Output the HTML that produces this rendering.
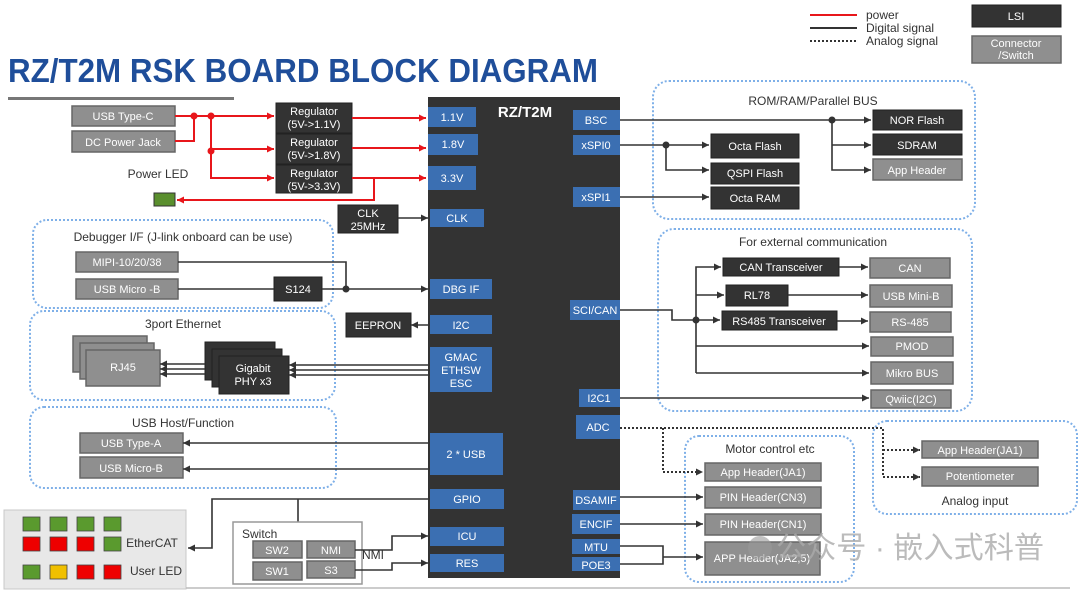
<!DOCTYPE html>
<html><head><meta charset="utf-8"><style>
html,body{margin:0;padding:0;background:#fff;}
svg{display:block;font-family:"Liberation Sans","Noto Sans CJK SC",sans-serif;}
.c{fill:#8f8f8f;stroke:#666;stroke-width:1.5}
.l{fill:#333;stroke:#222;stroke-width:1}
.p{fill:#3b6fb2}
.tw{fill:#fff;font-size:11px;text-anchor:middle}
.tk{fill:#333;font-size:12px;text-anchor:middle}
.g{fill:none;stroke:#7fb0e8;stroke-width:2;stroke-dasharray:2 2}
.w{fill:none;stroke:#333;stroke-width:1.6}
.r{fill:none;stroke:#e8161b;stroke-width:2}
.d{fill:none;stroke:#333;stroke-width:2;stroke-dasharray:2 2}
</style></head><body>
<svg width="1080" height="591" viewBox="0 0 1080 591" xmlns="http://www.w3.org/2000/svg">
<defs>
<marker id="a" markerWidth="8" markerHeight="8" refX="7" refY="4" orient="auto" markerUnits="userSpaceOnUse"><path d="M0,0.5 L7,4 L0,7.5z" fill="#333"/></marker>
<marker id="ar" markerWidth="8" markerHeight="8" refX="7" refY="4" orient="auto" markerUnits="userSpaceOnUse"><path d="M0,0.5 L7,4 L0,7.5z" fill="#e8161b"/></marker>
</defs>
<!-- title -->
<text x="8" y="82" font-size="33" font-weight="bold" fill="#1f4e9a" textLength="590" lengthAdjust="spacingAndGlyphs">RZ/T2M RSK BOARD BLOCK DIAGRAM</text>
<rect x="8" y="97" width="226" height="3" fill="#777"/>
<!-- legend -->
<line x1="810" y1="15" x2="857" y2="15" stroke="#e8161b" stroke-width="2"/>
<line x1="810" y1="28" x2="857" y2="28" stroke="#333" stroke-width="2"/>
<line x1="810" y1="41" x2="857" y2="41" class="d"/>
<text x="866" y="19" font-size="12" fill="#333">power</text>
<text x="866" y="32" font-size="12" fill="#333">Digital signal</text>
<text x="866" y="45" font-size="12" fill="#333">Analog signal</text>
<rect x="972" y="5" width="89" height="22" class="l"/><text x="1016" y="20" class="tw">LSI</text>
<rect x="972" y="36" width="89" height="27" class="c"/><text x="1016" y="47" class="tw" font-size="10">Connector</text><text x="1016" y="59" class="tw" font-size="10">/Switch</text>
<!-- groups -->
<rect x="33" y="220" width="300" height="88" rx="14" class="g"/>
<rect x="30" y="311" width="305" height="89" rx="14" class="g"/>
<rect x="30" y="407" width="306" height="81" rx="14" class="g"/>
<rect x="653" y="81" width="322" height="138" rx="16" class="g"/>
<rect x="658" y="229" width="314" height="182" rx="16" class="g"/>
<rect x="685" y="436" width="169" height="146" rx="14" class="g"/>
<rect x="873" y="421" width="204" height="93" rx="14" class="g"/>
<text x="183" y="241" class="tk" font-size="12.5">Debugger I/F (J-link onboard can be use)</text>
<text x="183" y="328" class="tk" font-size="12.5">3port Ethernet</text>
<text x="183" y="427" class="tk" font-size="12.5">USB Host/Function</text>
<text x="813" y="105" class="tk" font-size="12.5">ROM/RAM/Parallel BUS</text>
<text x="813" y="246" class="tk" font-size="12.5">For external communication</text>
<text x="770" y="453" class="tk" font-size="12.5">Motor control etc</text>
<text x="975" y="505" class="tk" font-size="12.5">Analog input</text>
<!-- chip -->
<rect x="428" y="97" width="192" height="481" fill="#333"/>
<text x="525" y="117" fill="#fff" font-size="15" font-weight="bold" text-anchor="middle">RZ/T2M</text>
<g>
<rect x="428" y="107" width="48" height="20" class="p"/><text x="452" y="121" class="tw">1.1V</text>
<rect x="428" y="134" width="50" height="21" class="p"/><text x="453" y="148" class="tw">1.8V</text>
<rect x="428" y="166" width="48" height="24" class="p"/><text x="452" y="182" class="tw">3.3V</text>
<rect x="430" y="209" width="54" height="18" class="p"/><text x="457" y="222" class="tw">CLK</text>
<rect x="430" y="279" width="62" height="20" class="p"/><text x="461" y="293" class="tw">DBG IF</text>
<rect x="430" y="315" width="62" height="19" class="p"/><text x="461" y="329" class="tw">I2C</text>
<rect x="430" y="347" width="62" height="45" class="p"/><text x="461" y="361" class="tw">GMAC</text><text x="461" y="374" class="tw">ETHSW</text><text x="461" y="387" class="tw">ESC</text>
<rect x="430" y="433" width="73" height="42" class="p"/><text x="466" y="458" class="tw">2 * USB</text>
<rect x="430" y="489" width="74" height="20" class="p"/><text x="467" y="503" class="tw">GPIO</text>
<rect x="430" y="527" width="74" height="19" class="p"/><text x="467" y="540" class="tw">ICU</text>
<rect x="430" y="554" width="74" height="18" class="p"/><text x="467" y="567" class="tw">RES</text>
<rect x="573" y="110" width="47" height="20" class="p"/><text x="596" y="124" class="tw">BSC</text>
<rect x="573" y="135" width="47" height="20" class="p"/><text x="596" y="149" class="tw">xSPI0</text>
<rect x="573" y="187" width="47" height="20" class="p"/><text x="596" y="201" class="tw">xSPI1</text>
<rect x="570" y="300" width="50" height="20" class="p"/><text x="595" y="314" class="tw">SCI/CAN</text>
<rect x="579" y="389" width="41" height="18" class="p"/><text x="599" y="402" class="tw">I2C1</text>
<rect x="576" y="415" width="44" height="24" class="p"/><text x="598" y="431" class="tw">ADC</text>
<rect x="573" y="490" width="47" height="20" class="p"/><text x="596" y="504" class="tw">DSAMIF</text>
<rect x="572" y="514" width="48" height="20" class="p"/><text x="596" y="528" class="tw">ENCIF</text>
<rect x="572" y="539" width="48" height="15" class="p"/><text x="596" y="551" class="tw">MTU</text>
<rect x="572" y="557" width="48" height="14" class="p"/><text x="596" y="569" class="tw">POE3</text>
</g>
<!-- power -->
<rect x="72" y="106" width="103" height="20" class="c"/><text x="123" y="120" class="tw">USB Type-C</text>
<rect x="72" y="131" width="103" height="21" class="c"/><text x="123" y="146" class="tw">DC Power Jack</text>
<rect x="276" y="103" width="76" height="30" class="l"/><text x="314" y="115" class="tw" font-size="10">Regulator</text><text x="314" y="128" class="tw" font-size="10">(5V-&gt;1.1V)</text>
<rect x="276" y="134" width="76" height="30" class="l"/><text x="314" y="146" class="tw" font-size="10">Regulator</text><text x="314" y="159" class="tw" font-size="10">(5V-&gt;1.8V)</text>
<rect x="276" y="165" width="76" height="28" class="l"/><text x="314" y="177" class="tw" font-size="10">Regulator</text><text x="314" y="190" class="tw" font-size="10">(5V-&gt;3.3V)</text>
<path d="M175,116 H274" class="r" marker-end="url(#ar)"/>
<path d="M175,141 H194 V116" class="r"/>
<path d="M211,116 V178 H274" class="r" marker-end="url(#ar)"/>
<path d="M211,149 H274" class="r" marker-end="url(#ar)"/>
<circle cx="194" cy="116" r="3.5" fill="#e8161b"/><circle cx="211" cy="116" r="3.5" fill="#e8161b"/><circle cx="211" cy="151" r="3.5" fill="#e8161b"/>
<path d="M352,118 H426" class="r" marker-end="url(#ar)"/>
<path d="M352,148 H426" class="r" marker-end="url(#ar)"/>
<path d="M352,178 H426" class="r" marker-end="url(#ar)"/>
<path d="M374,178 V200 H177" class="r" marker-end="url(#ar)"/>
<text x="158" y="178" class="tk" font-size="11">Power LED</text>
<rect x="154" y="193" width="21" height="13" fill="#5a8f2e" stroke="#333"/>
<rect x="338" y="205" width="60" height="28" class="l"/><text x="368" y="217" class="tw">CLK</text><text x="368" y="230" class="tw">25MHz</text>
<path d="M398,218 H428" class="w" marker-end="url(#a)"/>
<!-- debugger -->
<rect x="76" y="252" width="102" height="20" class="c"/><text x="127" y="266" class="tw">MIPI-10/20/38</text>
<rect x="76" y="279" width="102" height="20" class="c"/><text x="127" y="293" class="tw">USB Micro -B</text>
<rect x="274" y="277" width="48" height="24" class="l"/><text x="298" y="293" class="tw">S124</text>
<path d="M178,289 H274" class="w"/>
<path d="M178,262 H346 V289" class="w"/>
<path d="M322,289 H428" class="w" marker-end="url(#a)"/>
<circle cx="346" cy="289" r="3.5" fill="#333"/>
<!-- ethernet -->
<rect x="346" y="313" width="65" height="24" class="l"/><text x="378" y="329" class="tw">EEPRON</text>
<path d="M430,325 H411" class="w" marker-end="url(#a)"/>
<rect x="73" y="336" width="74" height="36" class="c"/>
<rect x="80" y="343" width="74" height="36" class="c"/>
<rect x="86" y="350" width="74" height="36" class="c"/><text x="123" y="371" class="tw" font-size="12">RJ45</text>
<rect x="205" y="342" width="70" height="38" class="l"/>
<rect x="212" y="349" width="70" height="38" class="l"/>
<rect x="219" y="356" width="70" height="38" class="l"/><text x="253" y="372" class="tw">Gigabit</text><text x="253" y="385" class="tw">PHY x3</text>
<path d="M430,365 H289" class="w" marker-end="url(#a)"/>
<path d="M430,370 H289" class="w" marker-end="url(#a)"/>
<path d="M430,375 H289" class="w" marker-end="url(#a)"/>
<path d="M205,364 H160" class="w" marker-end="url(#a)"/>
<path d="M205,369 H160" class="w" marker-end="url(#a)"/>
<path d="M205,374 H160" class="w" marker-end="url(#a)"/>
<!-- USB -->
<rect x="80" y="433" width="103" height="20" class="c"/><text x="131" y="447" class="tw">USB Type-A</text>
<rect x="80" y="457" width="103" height="21" class="c"/><text x="131" y="472" class="tw">USB Micro-B</text>
<path d="M430,443 H183" class="w" marker-end="url(#a)"/>
<path d="M430,469 H183" class="w" marker-end="url(#a)"/>
<!-- LED panel -->
<rect x="4" y="510" width="182" height="79" fill="#e8e8e8" stroke="#c8c8c8"/>
<g stroke="#444" stroke-width="0.8">
<rect x="23" y="517" width="17" height="14" fill="#5a9a2e"/><rect x="50" y="517" width="17" height="14" fill="#5a9a2e"/><rect x="77" y="517" width="17" height="14" fill="#5a9a2e"/><rect x="104" y="517" width="17" height="14" fill="#5a9a2e"/>
<rect x="23" y="537" width="17" height="14" fill="#e00"/><rect x="50" y="537" width="17" height="14" fill="#e00"/><rect x="77" y="537" width="17" height="14" fill="#e00"/><rect x="104" y="537" width="17" height="14" fill="#5a9a2e"/>
<rect x="23" y="565" width="17" height="14" fill="#5a9a2e"/><rect x="50" y="565" width="17" height="14" fill="#f0c000"/><rect x="77" y="565" width="17" height="14" fill="#e00"/><rect x="104" y="565" width="17" height="14" fill="#e00"/>
</g>
<text x="152" y="547" class="tk" font-size="11.5">EtherCAT</text>
<text x="156" y="575" class="tk" font-size="11.5">User LED</text>
<path d="M430,499 H212 V548 H188" class="w" marker-end="url(#a)"/>
<path d="M298,499 V522" class="w"/>
<!-- switch -->
<rect x="233" y="522" width="129" height="62" fill="#fff" stroke="#999" stroke-width="1.5"/>
<text x="242" y="538" font-size="12" fill="#333">Switch</text>
<rect x="253" y="541" width="49" height="17" class="c"/><text x="277" y="554" class="tw">SW2</text>
<rect x="307" y="541" width="48" height="17" class="c"/><text x="331" y="554" class="tw">NMI</text>
<rect x="253" y="562" width="49" height="18" class="c"/><text x="277" y="575" class="tw">SW1</text>
<rect x="307" y="561" width="48" height="17" class="c"/><text x="331" y="574" class="tw">S3</text>
<text x="373" y="559" class="tk" font-size="11">NMI</text>
<path d="M355,550 H392 V536 H428" class="w" marker-end="url(#a)"/>
<path d="M355,570 H392 V563 H428" class="w" marker-end="url(#a)"/>
<!-- ROM/RAM -->
<rect x="873" y="110" width="89" height="20" class="l"/><text x="917" y="124" class="tw">NOR Flash</text>
<rect x="873" y="134" width="89" height="21" class="l"/><text x="917" y="149" class="tw">SDRAM</text>
<rect x="873" y="159" width="89" height="21" class="c"/><text x="917" y="174" class="tw">App Header</text>
<rect x="711" y="134" width="88" height="24" class="l"/><text x="755" y="150" class="tw">Octa Flash</text>
<rect x="711" y="163" width="88" height="21" class="l"/><text x="755" y="177" class="tw">QSPI Flash</text>
<rect x="711" y="187" width="88" height="22" class="l"/><text x="755" y="202" class="tw">Octa RAM</text>
<path d="M620,120 H871" class="w" marker-end="url(#a)"/>
<path d="M832,120 V170 H871" class="w" marker-end="url(#a)"/>
<path d="M832,145 H871" class="w" marker-end="url(#a)"/>
<circle cx="832" cy="120" r="3.5" fill="#333"/>
<path d="M620,145 H709" class="w" marker-end="url(#a)"/>
<path d="M666,145 V170 H709" class="w" marker-end="url(#a)"/>
<circle cx="666" cy="145" r="3.5" fill="#333"/>
<path d="M620,197 H709" class="w" marker-end="url(#a)"/>
<!-- ext comm -->
<rect x="723" y="258" width="116" height="18" class="l"/><text x="781" y="271" class="tw">CAN Transceiver</text>
<rect x="726" y="285" width="62" height="21" class="l"/><text x="757" y="299" class="tw">RL78</text>
<rect x="722" y="311" width="115" height="19" class="l"/><text x="779" y="325" class="tw">RS485 Transceiver</text>
<rect x="870" y="258" width="80" height="20" class="c"/><text x="910" y="272" class="tw">CAN</text>
<rect x="870" y="285" width="82" height="22" class="c"/><text x="911" y="300" class="tw">USB Mini-B</text>
<rect x="870" y="312" width="81" height="20" class="c"/><text x="910" y="326" class="tw">RS-485</text>
<rect x="871" y="337" width="82" height="19" class="c"/><text x="912" y="350" class="tw">PMOD</text>
<rect x="871" y="362" width="82" height="22" class="c"/><text x="912" y="377" class="tw">Mikro BUS</text>
<rect x="871" y="390" width="80" height="18" class="c"/><text x="911" y="403" class="tw">Qwiic(I2C)</text>
<path d="M620,310 H672 V320 H720" class="w" marker-end="url(#a)"/>
<path d="M696,373 V267 H721" class="w" marker-end="url(#a)"/>
<path d="M696,295 H724" class="w" marker-end="url(#a)"/>
<path d="M696,346 H869" class="w" marker-end="url(#a)"/>
<path d="M696,373 H869" class="w" marker-end="url(#a)"/>
<circle cx="696" cy="320" r="3.5" fill="#333"/>
<path d="M839,267 H868" class="w" marker-end="url(#a)"/>
<path d="M788,295 H868" class="w" marker-end="url(#a)"/>
<path d="M837,321 H868" class="w" marker-end="url(#a)"/>
<path d="M620,398 H869" class="w" marker-end="url(#a)"/>
<!-- motor / analog -->
<rect x="705" y="463" width="116" height="18" class="c"/><text x="763" y="476" class="tw">App Header(JA1)</text>
<rect x="705" y="487" width="116" height="21" class="c"/><text x="763" y="501" class="tw">PIN Header(CN3)</text>
<rect x="705" y="514" width="116" height="21" class="c"/><text x="763" y="528" class="tw">PIN Header(CN1)</text>
<rect x="705" y="542" width="115" height="33" class="c"/><text x="762" y="562" class="tw">APP Header(JA2,5)</text>
<rect x="922" y="441" width="116" height="17" class="c"/><text x="980" y="454" class="tw">App Header(JA1)</text>
<rect x="922" y="467" width="116" height="19" class="c"/><text x="980" y="480" class="tw">Potentiometer</text>
<path d="M620,428 H883 V477 H920" class="d" marker-end="url(#a)"/>
<path d="M883,450 H920" class="d" marker-end="url(#a)"/>
<path d="M663,428 V472 H703" class="d" marker-end="url(#a)"/>
<path d="M620,497 H703" class="w" marker-end="url(#a)"/>
<path d="M620,524 H703" class="w" marker-end="url(#a)"/>
<path d="M620,546 H663 V564 H620 M663,557 H703" class="w" marker-end="url(#a)"/>
<line x1="186" y1="588" x2="1070" y2="588" stroke="#bbb" stroke-width="1.5"/>
<circle cx="760" cy="548" r="12" fill="#999" fill-opacity="0.6"/>
<text x="776" y="558" font-size="30" fill="#aaa" fill-opacity="0.8" textLength="268" lengthAdjust="spacingAndGlyphs">公众号 · 嵌入式科普</text>
</svg>
</body></html>
